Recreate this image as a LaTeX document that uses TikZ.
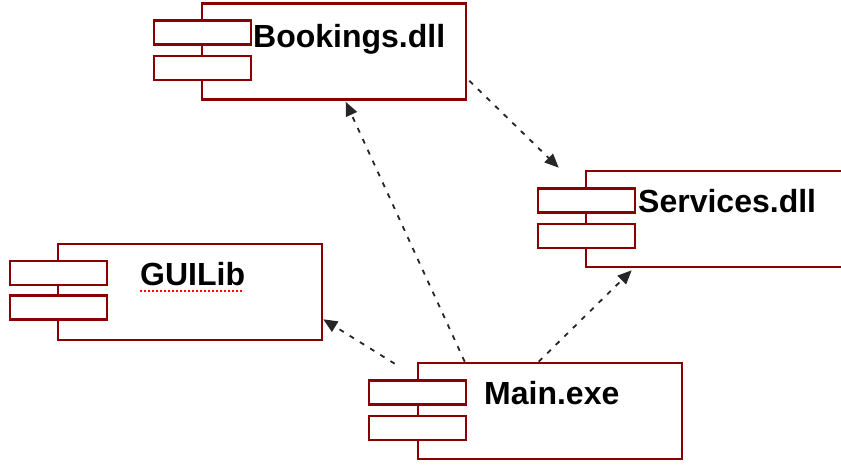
\documentclass[tikz,border=0pt]{standalone}
\usepackage{fontspec}
\setmainfont{Liberation Sans}
\usetikzlibrary{arrows.meta,calc}
\definecolor{boxred}{RGB}{136,0,0}

\begin{document}
\begin{tikzpicture}[x=1pt, y=-1pt, >={Triangle[length=14pt,width=12pt]}]
	\tikzstyle{comp} = [draw=boxred, line width=2.6pt, minimum width=264pt, minimum height=96pt, inner sep=0pt];
	\tikzstyle{tab} = [draw=boxred, line width=2.6pt, fill=white, minimum width=97pt, minimum height=24pt, inner sep=0pt];
	\tikzstyle{lbl} = [font=\fontsize{32}{36}\selectfont\bfseries, inner sep=0pt, anchor=base west];
	\tikzstyle{dep} = [->, dash pattern=on 5pt off 7pt, line width=1.8pt, black!85];
	\useasboundingbox (0,0) rectangle (841,464);

	% components
	\node[comp] (book) at (334,51.5) {};
	\node[tab] (booktopt) at (202.5,32.5) {};
	\node[tab] (booktabb) at (202.5,68) {};
	\node[lbl] (booklbl) at (253,47) {Bookings.dll};

	\node[comp] (serv) at (718,219) {};
	\node[tab] (servtopt) at (586.5,200.5) {};
	\node[tab] (servtabb) at (586.5,236) {};
	\node[lbl] (servlbl) at (638,212) {Services.dll};

	\node[comp] (gui) at (190,292) {};
	\node[tab] (guitopt) at (58.5,273) {};
	\node[tab] (guitabb) at (58.5,307.5) {};
	\node[lbl] (guilbl) at (140,285) {GUILib};
	\draw[red, line width=2pt, dash pattern=on 2pt off 2pt] (140,290.5) -- (244,290.5);

	\node[comp] (main) at (550,411) {};
	\node[tab] (maintopt) at (417.5,392.5) {};
	\node[tab] (maintabb) at (417.5,428) {};
	\node[lbl] (mainlbl) at (484,404) {Main.exe};

	% dependencies
	\draw[dep] ($(main.north west)+(48,0)$) -- ($(book.south west)+(145,1)$);
	\draw[dep] ($(book.south east)+(2,-20)$) -- ($(serv.north west)+(-26,-2)$);
	\draw[dep] ($(main.north west)+(-22,2)$) -- ($(gui.south east)+(0,-22)$);
	\draw[dep] ($(main.north west)+(122,0)$) -- ($(serv.south west)+(47,2)$);
\end{tikzpicture}
\end{document}
